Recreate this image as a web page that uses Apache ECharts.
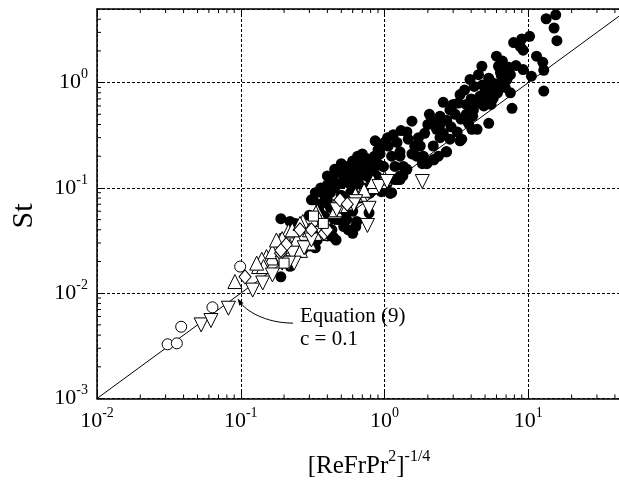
<!DOCTYPE html>
<html><head><meta charset="utf-8">
<script src="https://cdn.jsdelivr.net/npm/echarts@6/dist/echarts.min.js"></script>
<style>html,body{margin:0;padding:0;background:#fff}#c{width:619px;height:484px}</style>
</head><body><div id="c"></div>
<script>
const X_MIN = 0.01, X_MAX = 42.7, Y_MIN = 0.001, Y_MAX = 5;
const xMinorTicks = [0.02,0.03,0.04,0.05,0.06,0.07,0.08,0.09,0.2,0.3,0.4,0.5,0.6,0.7,0.8,0.9,2,3,4,5,6,7,8,9,20,30,40];
const yMinorTicks = [0.002,0.003,0.004,0.005,0.006,0.007,0.008,0.009,0.02,0.03,0.04,0.05,0.06,0.07,0.08,0.09,0.2,0.3,0.4,0.5,0.6,0.7,0.8,0.9,2,3,4];
const eqLine = [[0.01,0.001],[42.7,4.27]];
const arrowFrom = [0.231,0.0052];
const arrowTo = [0.095,0.0089];

const filledCircles = [
[13.3,4.04],[15.5,4.4],[15.1,3.3],[15.8,2.5],[7.9,2.4],[9.0,2.6],[10.2,2.75],[9.2,2.03],[11.4,1.78],[12.6,1.56],[12.8,1.31],[12.8,0.83],[9.2,1.33],[6.0,1.78],[4.75,1.43],[4.5,1.19],[3.93,1.07],[6.2,1.43],[6.7,1.33],[7.5,1.19],[7.1,1.07],[6.35,0.99],[7.5,0.80],[7.7,0.57],[5.4,0.86],[5.1,0.69],[5.7,0.71],[5.0,0.83],[4.6,0.74],[4.4,0.64],[4.9,0.60],[4.15,0.55],[3.7,0.50],[5.3,0.41],[4.4,0.36],[3.83,0.41],[3.35,0.77],[3.26,0.64],[2.56,0.65],[2.85,0.55],[3.1,0.50],[2.7,0.44],[2.43,0.48],[2.13,0.44],[2.0,0.40],[2.43,0.40],[2.3,0.36],[2.56,0.33],[3.2,0.34],[3.44,0.29],[2.85,0.29],[2.43,0.30],[2.7,0.22],[2.18,0.25],[2.37,0.20],[1.86,0.20],[1.97,0.17],[1.55,0.43],[1.43,0.34],[1.72,0.30],[1.46,0.29],[1.22,0.27],[1.06,0.25],[1.28,0.22],[1.55,0.21],[1.77,0.25],[0.93,0.21],[1.12,0.20],[1.35,0.16],[1.28,0.13],[1.18,0.12],[0.71,0.17],[0.64,0.14],[0.79,0.15],[0.98,0.16],[0.88,0.13],[1.12,0.09],
[5.6,1.0],[5.9,0.93],[6.5,1.15],[5.3,1.1],[6.9,0.9],[6.1,0.8],[4.2,0.92],[4.8,0.95],[5.5,0.62],[6.6,1.6],[8.2,1.45],[10.5,1.15],[3.6,0.85],[4.0,0.7],[3.4,0.45],[4.1,0.48],[6.4,1.25],[7.3,1.4],[8.8,2.2],
[1.28,0.20],[1.67,0.20],[2.18,0.185],[1.43,0.15],[1.28,0.12],[1.09,0.089],[0.675,0.17],[0.52,0.14],[0.44,0.12],[0.40,0.107],[0.375,0.096],[0.61,0.12],[0.75,0.13],[0.84,0.15],[0.98,0.16],[1.04,0.11],[0.79,0.089],[0.32,0.077],[0.40,0.077],[0.49,0.064],[0.545,0.050],[0.64,0.048],[0.49,0.050],[0.44,0.034],[0.46,0.032],[0.34,0.032],[0.30,0.028],[0.27,0.026],[0.19,0.051],[0.22,0.048],[0.19,0.0143],[0.22,0.018],[0.30,0.055],[0.31,0.077],
[0.33,0.027],[0.52,0.043],[0.63,0.043],[0.43,0.040],[0.38,0.054],[0.47,0.050],[0.78,0.058],[0.95,0.092],[1.1,0.089],[1.34,0.13],[1.22,0.12],[1.18,0.16],[1.83,0.17],[2.2,0.185],[2.68,0.22],[3.35,0.28],[4.05,0.36],
[0.45,0.15],[0.5,0.17],[0.55,0.16],[0.6,0.18],[0.65,0.2],[0.7,0.21],[0.75,0.19],[0.8,0.18],[0.85,0.2],[0.9,0.23],[0.95,0.25],[1.0,0.27],[1.05,0.3],[1.15,0.32],[0.5,0.11],[0.55,0.13],[0.6,0.1],[0.66,0.11],[0.7,0.14],[0.72,0.1],[0.42,0.09],[0.38,0.085],[0.45,0.1],[0.5,0.085],[0.58,0.09],[0.36,0.07],[0.42,0.065],[0.35,0.06],[0.85,0.11],[0.9,0.17],
[0.36,0.1],[0.33,0.09],[0.4,0.13],[0.46,0.14],[0.52,0.12],[0.57,0.11],[0.62,0.15],[0.68,0.13],[0.74,0.16],[0.8,0.12],[0.56,0.08],[0.62,0.085],[0.67,0.08],[0.38,0.045],[0.42,0.05],[0.53,0.06],[0.6,0.06],[0.56,0.04],[0.4,0.035],[0.35,0.04],[0.28,0.03],[0.6,0.037],[0.24,0.046],[0.86,0.28],[1.3,0.35],[1.9,0.33],[2.05,0.5],[2.9,0.38],[3.0,0.62],[3.7,0.62],[1.62,0.25]
];
const openCircles = [[0.031,0.00327],[0.0359,0.00334],[0.0385,0.0048],[0.0635,0.00734],[0.099,0.0179]];
const upTriangles = [
[0.091,0.0129],[0.133,0.0179],[0.151,0.0223],[0.188,0.032],[0.215,0.039],[0.27,0.048],[0.34,0.060],[0.27,0.037],[0.22,0.028],[0.245,0.032],[0.30,0.040],[0.37,0.048],[0.45,0.060],[0.56,0.072],[0.68,0.086],[0.84,0.103],[0.96,0.115],[0.173,0.0255],[0.165,0.0216],[0.14,0.021],[0.144,0.0179],[0.26,0.0255],[0.129,0.0193],[0.166,0.0248],[0.194,0.033],[0.228,0.040],[0.258,0.046],[0.333,0.058],[0.457,0.062],[0.627,0.086],[0.83,0.115],[1.0,0.124],[0.177,0.032],[0.36,0.037],[0.5,0.068],[0.72,0.095],[0.3,0.03],[0.2,0.022]
];
const downTriangles = [
[0.053,0.0050],[0.062,0.0055],[0.082,0.0072],[0.121,0.0107],[0.142,0.0125],[0.166,0.0149],[0.194,0.0193],[0.235,0.0193],[0.228,0.024],[0.276,0.027],[0.366,0.037],[0.76,0.044],[0.78,0.064],[1.83,0.115],[0.915,0.103],[0.49,0.066],[0.63,0.074],[0.38,0.041],[0.31,0.032],[1.04,0.115],[0.61,0.069],[0.465,0.062],[0.215,0.0193]
];
const diamonds = [[0.107,0.0143],[0.189,0.024],[0.207,0.029],[0.31,0.040],[0.38,0.037],[0.49,0.077],[0.40,0.040],[0.258,0.040],[0.19,0.0255],[0.55,0.07]];
const squares = [[0.375,0.046],[0.32,0.054],[0.2,0.0193]];

const FONT = '"Liberation Serif","Times New Roman",serif';
const rich = {
  b: {fontSize: 22, fontFamily: FONT, color: '#000', lineHeight: 30},
  s: {fontSize: 14, fontFamily: FONT, color: '#000', verticalAlign: 'top'}
};
function pow10Label(v) {
  const l = Math.log10(v);
  const e = Math.round(l);
  if (Math.abs(l - e) > 1e-6) return '';
  return '{b|10}{s|' + (e < 0 ? '-' + (-e) : e) + '}';
}
function openStyle() { return {color: '#fff', borderColor: '#000', borderWidth: 1, opacity: 1}; }

const chart = echarts.init(document.getElementById('c'), null, {renderer: 'canvas'});
const axisCommon = {
  type: 'log', logBase: 10,
  axisLine: {show: true, lineStyle: {color: '#000', width: 1.5}},
  axisTick: {show: true, inside: true, length: 8, lineStyle: {color: '#000', width: 1}},
  splitLine: {show: true, lineStyle: {color: '#000', width: 1, type: [3, 2]}},
  minorTick: {show: false}, minorSplitLine: {show: false}
};
const staticGraphics = [
  {id: 'yname', type: 'text', x: 24, y: 216, rotation: Math.PI / 2,
    style: {text: 'St', font: '30px ' + FONT, fill: '#000', align: 'center', verticalAlign: 'middle'}},
  {id: 'xname', type: 'text', x: 369, y: 466,
    style: {text: '{m|[ReFrPr}{s|2}{m|]}{s|-1/4}', fill: '#000', align: 'center', verticalAlign: 'middle',
      rich: {m: {fontSize: 25, fontFamily: FONT, color: '#000', lineHeight: 34},
             s: {fontSize: 16, fontFamily: FONT, color: '#000', verticalAlign: 'top'}}}},
  {id: 'eq1', type: 'text', x: 300, y: 316,
    style: {text: 'Equation (9)', font: '21px ' + FONT, fill: '#000', align: 'left', verticalAlign: 'middle'}},
  {id: 'eq2', type: 'text', x: 300, y: 339,
    style: {text: 'c = 0.1', font: '21px ' + FONT, fill: '#000', align: 'left', verticalAlign: 'middle'}}
];
chart.setOption({
  animation: false,
  backgroundColor: '#fff',
  grid: {left: 97, top: 9, right: 0, bottom: 85.5, containLabel: false, outerBoundsMode: 'none'},
  xAxis: [
    Object.assign({}, axisCommon, {min: X_MIN, max: X_MAX, position: 'bottom',
      axisLabel: {margin: 8, formatter: pow10Label, rich: rich, showMaxLabel: false}}),
    Object.assign({}, axisCommon, {min: X_MIN, max: X_MAX, position: 'top',
      axisLabel: {show: false}, splitLine: {show: false}})
  ],
  yAxis: [
    Object.assign({}, axisCommon, {min: Y_MIN, max: Y_MAX, position: 'left',
      axisLabel: {margin: 9, formatter: pow10Label, rich: rich, showMaxLabel: false}})
  ],
  graphic: staticGraphics,
  series: [
    {type: 'line', data: eqLine, showSymbol: false, symbol: 'none', lineStyle: {color: '#000', width: 1}, z: 1, silent: true},
    {type: 'scatter', data: filledCircles, symbol: 'circle', symbolSize: 11, itemStyle: {color: '#000', opacity: 1}, z: 2},
    {type: 'scatter', data: openCircles, symbol: 'circle', symbolSize: 11, itemStyle: openStyle(), z: 3},
    {type: 'scatter', data: upTriangles, symbol: 'triangle', symbolSize: 14, itemStyle: openStyle(), z: 3},
    {type: 'scatter', data: downTriangles, symbol: 'triangle', symbolRotate: 180, symbolSize: 14, itemStyle: openStyle(), z: 3},
    {type: 'scatter', data: diamonds, symbol: 'diamond', symbolSize: [12, 14], itemStyle: openStyle(), z: 3},
    {type: 'scatter', data: squares, symbol: 'rect', symbolSize: 10, itemStyle: openStyle(), z: 3},
    {type: 'custom', data: xMinorTicks.map(v => [v, Y_MIN]), silent: true, z: 5,
      renderItem: function (params, api) {
        const v = api.value(0);
        const b = api.coord([v, Y_MIN]);
        const t = api.coord([v, Y_MAX]);
        return {type: 'group', children: [
          {type: 'line', shape: {x1: b[0], y1: b[1], x2: b[0], y2: b[1] - 4}, style: {stroke: '#000', lineWidth: 1}},
          {type: 'line', shape: {x1: t[0], y1: t[1], x2: t[0], y2: t[1] + 4}, style: {stroke: '#000', lineWidth: 1}}
        ]};
      }},
    {type: 'custom', data: yMinorTicks.map(v => [X_MIN, v]), silent: true, z: 5,
      renderItem: function (params, api) {
        const v = api.value(1);
        const l = api.coord([X_MIN, v]);
        return {type: 'line', shape: {x1: l[0], y1: l[1], x2: l[0] + 4, y2: l[1]}, style: {stroke: '#000', lineWidth: 1}};
      }}
  ]
});

// annotation arrow, anchored to data coordinates
const st = chart.convertToPixel({xAxisIndex: 0, yAxisIndex: 0}, arrowFrom);
const tp = chart.convertToPixel({xAxisIndex: 0, yAxisIndex: 0}, arrowTo);
const cp1 = [st[0] - 28, st[1]];
const cp2 = [tp[0] + 8, tp[1] + 12];
let dx = tp[0] - cp2[0], dy = tp[1] - cp2[1];
const dl = Math.sqrt(dx * dx + dy * dy); dx /= dl; dy /= dl;
const nx = -dy, ny = dx;
chart.setOption({graphic: staticGraphics.concat([
  {id: 'arrowCurve', type: 'bezierCurve',
    shape: {x1: st[0], y1: st[1], x2: tp[0] - dx * 4, y2: tp[1] - dy * 4, cpx1: cp1[0], cpy1: cp1[1], cpx2: cp2[0], cpy2: cp2[1]},
    style: {stroke: '#000', lineWidth: 1, fill: null}, z: 10},
  {id: 'arrowHead', type: 'polygon',
    shape: {points: [[tp[0], tp[1]], [tp[0] - dx * 7 + nx * 2.5, tp[1] - dy * 7 + ny * 2.5], [tp[0] - dx * 7 - nx * 2.5, tp[1] - dy * 7 - ny * 2.5]]},
    style: {fill: '#000'}, z: 10}
])});
</script></body></html>
